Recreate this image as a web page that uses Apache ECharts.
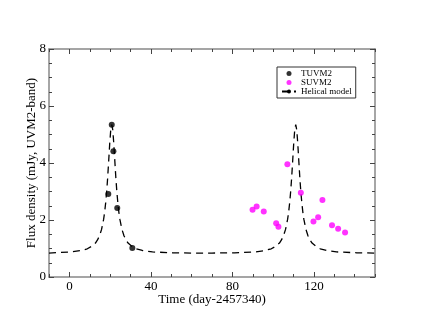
<!DOCTYPE html>
<html><head><meta charset="utf-8">
<script src="https://cdn.jsdelivr.net/npm/echarts@6/dist/echarts.min.js"></script>
<style>html,body{margin:0;padding:0;background:#fff}#c{width:423px;height:327px}</style>
</head><body><div id="c"></div>
<script>
const xTicks = [0, 40, 80, 120];
const xMinorTicks = [-10, 10, 20, 30, 50, 60, 70, 90, 100, 110, 130, 140, 150];
const yTicks = [0, 2, 4, 6, 8];

const tuvm2X = [19.1, 20.8, 21.6, 23.5, 30.9];
const tuvm2Y = [2.91, 5.34, 4.41, 2.42, 1.02];

const suvm2X = [89.9, 91.9, 95.4, 101.5, 102.6, 107.0, 113.6, 119.8, 122.1, 124.2, 128.9, 131.9, 135.3];
const suvm2Y = [2.36, 2.47, 2.30, 1.89, 1.76, 3.96, 2.96, 1.95, 2.10, 2.70, 1.82, 1.69, 1.56];

const modelX = [-10, 0.8, 5.8, 8.8, 10.8, 12.8, 13.8, 14.8, 15.8, 16.8, 17.3, 17.8, 18.3, 18.8, 19.3, 19.8, 20.3, 20.8,
  21.3, 21.8, 22.3, 22.8, 23.3, 23.8, 24.3, 24.8, 25.8, 26.8, 27.8, 28.8, 30.8, 32.8, 35.8, 40.8, 50.8, 60, 70,
  81.1, 91.1, 96.1, 99.1, 101.1, 103.1, 104.1, 105.1, 106.1, 107.1, 107.6, 108.1, 108.6, 109.1, 109.6, 110.1, 110.6, 111.1,
  111.6, 112.1, 112.6, 113.1, 113.6, 114.1, 114.6, 115.1, 116.1, 117.1, 118.1, 119.1, 121.1, 123.1, 126.1, 131.1, 141.1, 150];
const modelY = [0.84, 0.88, 0.93, 0.99, 1.07, 1.19, 1.30, 1.45, 1.67, 2.02, 2.27, 2.59, 2.99, 3.49, 4.08, 4.68, 5.16, 5.35,
  5.16, 4.68, 4.08, 3.49, 2.99, 2.59, 2.27, 2.02, 1.67, 1.45, 1.30, 1.19, 1.07, 0.99, 0.93, 0.88, 0.85, 0.84, 0.84,
  0.85, 0.88, 0.93, 0.99, 1.07, 1.19, 1.30, 1.45, 1.67, 2.02, 2.27, 2.59, 2.99, 3.49, 4.08, 4.68, 5.16, 5.35,
  5.16, 4.68, 4.08, 3.49, 2.99, 2.59, 2.27, 2.02, 1.67, 1.45, 1.30, 1.19, 1.07, 0.99, 0.93, 0.88, 0.85, 0.84];

const zip = (a, b) => a.map((v, i) => [v, b[i]]);
const FONT = '"Liberation Serif", "DejaVu Serif", serif';
const frame = '#888';
const tickC = '#444';

function xAxisDef(pos, major, show) {
  return {
    type: 'value', min: -10, max: 150, position: pos,
    axisLine: { show: show, onZero: false, lineStyle: { color: frame, width: 1.5 } },
    splitLine: { show: false },
    axisTick: { show: true, inside: true, length: major ? 5 : 3, customValues: major ? xTicks : xMinorTicks, lineStyle: { color: tickC } },
    axisLabel: (pos === 'bottom' && major) ? { show: true, customValues: xTicks, margin: 3, color: '#000', fontFamily: FONT, fontSize: 13 } : { show: false },
    name: (pos === 'bottom' && major) ? 'Time (day-2457340)' : '',
    nameLocation: 'middle', nameGap: 16, nameMoveOverlap: false,
    nameTextStyle: { color: '#000', fontFamily: FONT, fontSize: 13 }
  };
}
function yAxisDef(pos) {
  return {
    type: 'value', min: 0, max: 8, interval: 2, position: pos,
    axisLine: { show: true, onZero: false, lineStyle: { color: frame, width: 1.5 } },
    splitLine: { show: false },
    axisTick: { show: true, inside: true, length: 5, lineStyle: { color: tickC } },
    minorTick: { show: true, splitNumber: 4, length: 3, lineStyle: { color: tickC } },
    axisLabel: pos === 'left' ? { show: true, margin: 3, color: '#000', fontFamily: FONT, fontSize: 13, customValues: yTicks } : { show: false },
    name: pos === 'left' ? 'Flux density (mJy, UVM2-band)' : '',
    nameLocation: 'middle', nameGap: 11, nameRotate: 90, nameMoveOverlap: false,
    nameTextStyle: { color: '#000', fontFamily: FONT, fontSize: 13 }
  };
}

const chart = echarts.init(document.getElementById('c'), null, { renderer: 'canvas' });
chart.setOption({
  animation: false,
  backgroundColor: '#fff',
  grid: { left: 49, right: 48, top: 49, bottom: 50 },
  xAxis: [xAxisDef('bottom', true, true), xAxisDef('bottom', false, false), xAxisDef('top', true, true), xAxisDef('top', false, false)],
  yAxis: [yAxisDef('left'), yAxisDef('right')],
  legend: {
    orient: 'vertical', left: 277, top: 67,
    backgroundColor: '#fff', borderColor: '#333', borderWidth: 1, borderRadius: 0,
    padding: [2, 4, 2, 4], itemGap: 0, itemWidth: 14, itemHeight: 5,
    textStyle: { fontFamily: FONT, fontSize: 9, color: '#000', lineHeight: 9 },
    data: [
      { name: 'TUVM2', icon: 'circle' },
      { name: 'SUVM2', icon: 'circle' },
      { name: 'Helical model' }
    ]
  },
  series: [
    {
      name: 'Helical model', type: 'line', xAxisIndex: 0, yAxisIndex: 0,
      data: zip(modelX, modelY), showSymbol: false, symbol: 'none', smooth: false,
      lineStyle: { color: '#000', width: 1.3, type: [7, 5] }, itemStyle: { color: '#000' }, z: 2
    },
    {
      name: 'TUVM2', type: 'scatter', xAxisIndex: 0, yAxisIndex: 0,
      data: zip(tuvm2X, tuvm2Y), symbol: 'circle', symbolSize: 6,
      itemStyle: { color: '#000' }, z: 3
    },
    {
      name: 'SUVM2', type: 'scatter', xAxisIndex: 0, yAxisIndex: 0,
      data: zip(suvm2X, suvm2Y), symbol: 'circle', symbolSize: 6,
      itemStyle: { color: '#ff00ff' }, z: 3
    }
  ]
});
</script></body></html>
